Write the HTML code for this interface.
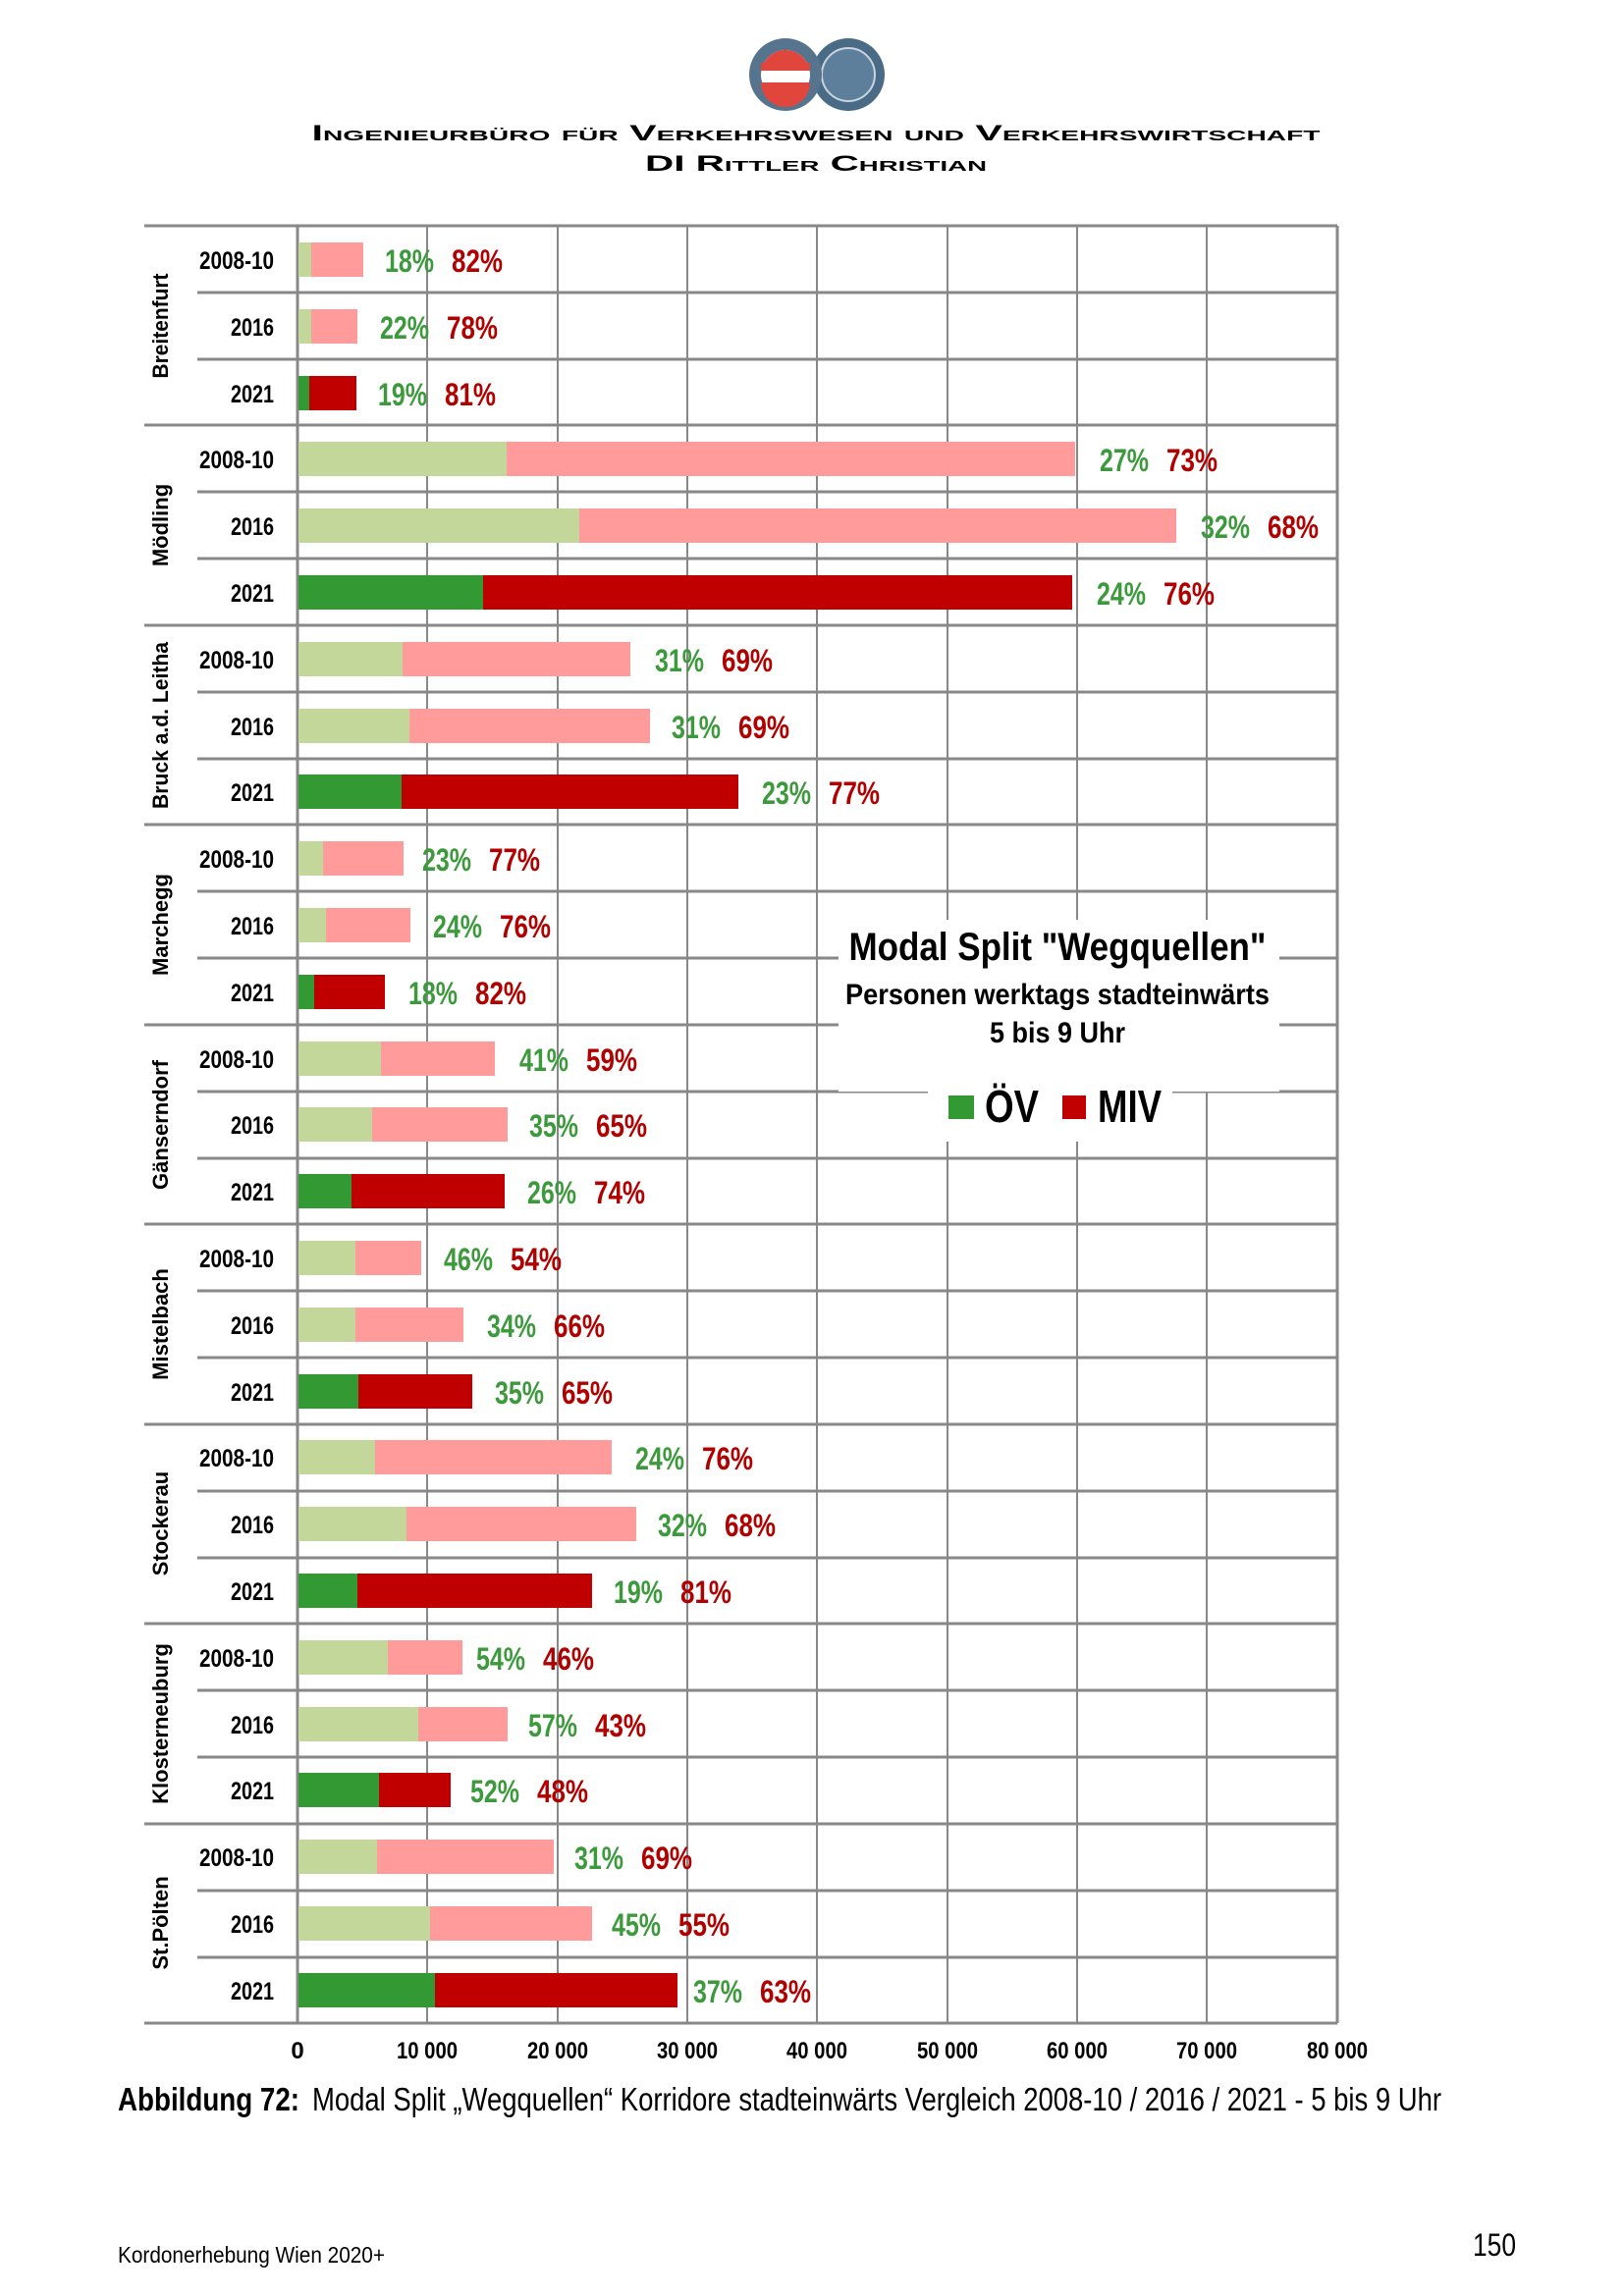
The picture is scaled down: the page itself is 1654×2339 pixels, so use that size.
<!DOCTYPE html>
<html><head><meta charset="utf-8"><style>
html,body{margin:0;padding:0;background:#fff;}
svg{display:block;}
text{font-family:"Liberation Sans Narrow","Liberation Sans",sans-serif;}
</style></head><body>
<svg width="1654" height="2339" viewBox="0 0 1654 2339" xmlns="http://www.w3.org/2000/svg">
<!-- logo -->
<circle cx="864" cy="76" r="37" fill="#4a6b86"/>
<circle cx="864" cy="76" r="27" fill="#5d7f9c" stroke="#c9d4de" stroke-width="2"/>
<circle cx="800" cy="76" r="37" fill="#56748d"/>
<circle cx="800" cy="76" r="25" fill="#fff"/>
<path d="M775 76 a25 25 0 0 1 50 0 v-8 h-50z" fill="#e0463c"/>
<rect x="775" y="64" width="50" height="8" fill="#e0463c"/>
<path d="M775 84 a25 25 0 0 0 50 0z" fill="#e0463c"/>
<rect x="775" y="66" width="50" height="6" fill="#e0463c"/>
<text x="831" y="143" text-anchor="middle" font-size="22" font-weight="bold" style="font-variant:small-caps;font-family:'Liberation Sans',sans-serif" textLength="1027" lengthAdjust="spacingAndGlyphs">Ingenieurbüro für Verkehrswesen und Verkehrswirtschaft</text>
<text x="831" y="174" text-anchor="middle" font-size="22" font-weight="bold" style="font-variant:small-caps;font-family:'Liberation Sans',sans-serif" textLength="348" lengthAdjust="spacingAndGlyphs">DI Rittler Christian</text>

<!-- vertical gridlines -->
<g stroke="#888" stroke-width="2">
<line x1="435" y1="230" x2="435" y2="2061"/><line x1="568" y1="230" x2="568" y2="2061"/>
<line x1="700" y1="230" x2="700" y2="2061"/><line x1="832" y1="230" x2="832" y2="2061"/>
<line x1="965" y1="230" x2="965" y2="2061"/><line x1="1097" y1="230" x2="1097" y2="2061"/>
<line x1="1229" y1="230" x2="1229" y2="2061"/>
</g>
<!-- horizontal lines -->
<g stroke="#888" stroke-width="3">
<line x1="147" y1="230" x2="1362" y2="230"/>
<line x1="201" y1="298" x2="1362" y2="298"/><line x1="201" y1="366" x2="1362" y2="366"/>
<line x1="147" y1="433" x2="1362" y2="433"/>
<line x1="201" y1="501" x2="1362" y2="501"/><line x1="201" y1="569" x2="1362" y2="569"/>
<line x1="147" y1="637" x2="1362" y2="637"/>
<line x1="201" y1="705" x2="1362" y2="705"/><line x1="201" y1="773" x2="1362" y2="773"/>
<line x1="147" y1="840" x2="1362" y2="840"/>
<line x1="201" y1="908" x2="1362" y2="908"/><line x1="201" y1="976" x2="1362" y2="976"/>
<line x1="147" y1="1044" x2="1362" y2="1044"/>
<line x1="201" y1="1112" x2="1362" y2="1112"/><line x1="201" y1="1180" x2="1362" y2="1180"/>
<line x1="147" y1="1247" x2="1362" y2="1247"/>
<line x1="201" y1="1315" x2="1362" y2="1315"/><line x1="201" y1="1383" x2="1362" y2="1383"/>
<line x1="147" y1="1451" x2="1362" y2="1451"/>
<line x1="201" y1="1519" x2="1362" y2="1519"/><line x1="201" y1="1587" x2="1362" y2="1587"/>
<line x1="147" y1="1654" x2="1362" y2="1654"/>
<line x1="201" y1="1722" x2="1362" y2="1722"/><line x1="201" y1="1790" x2="1362" y2="1790"/>
<line x1="147" y1="1858" x2="1362" y2="1858"/>
<line x1="201" y1="1926" x2="1362" y2="1926"/><line x1="201" y1="1994" x2="1362" y2="1994"/>
<line x1="147" y1="2061" x2="1362" y2="2061"/>
<line x1="303" y1="230" x2="303" y2="2061"/>
<line x1="1362" y1="230" x2="1362" y2="2061"/>
</g>
<!-- legend white boxes -->
<rect x="854" y="937" width="449" height="175" fill="#fff"/>
<rect x="945" y="1080" width="249" height="83" fill="#fff"/>
<text x="1077" y="978" text-anchor="middle" font-size="40" font-weight="bold" textLength="425" lengthAdjust="spacingAndGlyphs">Modal Split "Wegquellen"</text>
<text x="1077" y="1023" text-anchor="middle" font-size="30" font-weight="bold" textLength="432" lengthAdjust="spacingAndGlyphs">Personen werktags stadteinwärts</text>
<text x="1077" y="1062" text-anchor="middle" font-size="30" font-weight="bold" textLength="138" lengthAdjust="spacingAndGlyphs">5 bis 9 Uhr</text>
<rect x="966" y="1116" width="26" height="24" fill="#339933"/>
<text x="1003" y="1143" font-size="46" font-weight="bold" textLength="55" lengthAdjust="spacingAndGlyphs">ÖV</text>
<rect x="1082" y="1116" width="24" height="24" fill="#c00000"/>
<text x="1118" y="1143" font-size="46" font-weight="bold" textLength="65" lengthAdjust="spacingAndGlyphs">MIV</text>

<!-- group labels -->
<g font-size="22" font-weight="bold" text-anchor="middle" style="font-family:'Liberation Sans',sans-serif">
<text transform="translate(171,332) rotate(-90)" textLength="107" lengthAdjust="spacingAndGlyphs">Breitenfurt</text>
<text transform="translate(171,535) rotate(-90)">Mödling</text>
<text transform="translate(171,739) rotate(-90)" textLength="170" lengthAdjust="spacingAndGlyphs">Bruck a.d. Leitha</text>
<text transform="translate(171,942) rotate(-90)">Marchegg</text>
<text transform="translate(171,1146) rotate(-90)">Gänserndorf</text>
<text transform="translate(171,1349) rotate(-90)">Mistelbach</text>
<text transform="translate(171,1552) rotate(-90)">Stockerau</text>
<text transform="translate(171,1756) rotate(-90)">Klosterneuburg</text>
<text transform="translate(171,1959) rotate(-90)">St.Pölten</text>
</g>
<!-- ticks -->
<g font-size="24" font-weight="bold" text-anchor="middle">
<text x="303" y="2097">0</text>
<text x="435" y="2097" textLength="62" lengthAdjust="spacingAndGlyphs">10 000</text>
<text x="568" y="2097" textLength="62" lengthAdjust="spacingAndGlyphs">20 000</text>
<text x="700" y="2097" textLength="62" lengthAdjust="spacingAndGlyphs">30 000</text>
<text x="832" y="2097" textLength="62" lengthAdjust="spacingAndGlyphs">40 000</text>
<text x="965" y="2097" textLength="62" lengthAdjust="spacingAndGlyphs">50 000</text>
<text x="1097" y="2097" textLength="62" lengthAdjust="spacingAndGlyphs">60 000</text>
<text x="1229" y="2097" textLength="62" lengthAdjust="spacingAndGlyphs">70 000</text>
<text x="1362" y="2097" textLength="62" lengthAdjust="spacingAndGlyphs">80 000</text>
</g>
<text x="120" y="2150" font-size="33" font-weight="bold" textLength="185" lengthAdjust="spacingAndGlyphs">Abbildung 72:</text>
<text x="318" y="2150" font-size="33" textLength="1150" lengthAdjust="spacingAndGlyphs">Modal Split „Wegquellen“ Korridore stadteinwärts Vergleich 2008-10 / 2016 / 2021 - 5 bis 9 Uhr</text>
<text x="120" y="2305" font-size="23" textLength="272" lengthAdjust="spacingAndGlyphs">Kordonerhebung Wien 2020+</text>
<text x="1500" y="2298" font-size="32" textLength="44" lengthAdjust="spacingAndGlyphs">150</text>

<g font-size="25" font-weight="bold" text-anchor="end">
<text x="279" y="274" textLength="76" lengthAdjust="spacingAndGlyphs">2008-10</text><text x="279" y="342" textLength="44" lengthAdjust="spacingAndGlyphs">2016</text><text x="279" y="410" textLength="44" lengthAdjust="spacingAndGlyphs">2021</text>
<text x="279" y="477" textLength="76" lengthAdjust="spacingAndGlyphs">2008-10</text><text x="279" y="545" textLength="44" lengthAdjust="spacingAndGlyphs">2016</text><text x="279" y="613" textLength="44" lengthAdjust="spacingAndGlyphs">2021</text>
<text x="279" y="681" textLength="76" lengthAdjust="spacingAndGlyphs">2008-10</text><text x="279" y="749" textLength="44" lengthAdjust="spacingAndGlyphs">2016</text><text x="279" y="816" textLength="44" lengthAdjust="spacingAndGlyphs">2021</text>
<text x="279" y="884" textLength="76" lengthAdjust="spacingAndGlyphs">2008-10</text><text x="279" y="952" textLength="44" lengthAdjust="spacingAndGlyphs">2016</text><text x="279" y="1020" textLength="44" lengthAdjust="spacingAndGlyphs">2021</text>
<text x="279" y="1088" textLength="76" lengthAdjust="spacingAndGlyphs">2008-10</text><text x="279" y="1155" textLength="44" lengthAdjust="spacingAndGlyphs">2016</text><text x="279" y="1223" textLength="44" lengthAdjust="spacingAndGlyphs">2021</text>
<text x="279" y="1291" textLength="76" lengthAdjust="spacingAndGlyphs">2008-10</text><text x="279" y="1359" textLength="44" lengthAdjust="spacingAndGlyphs">2016</text><text x="279" y="1427" textLength="44" lengthAdjust="spacingAndGlyphs">2021</text>
<text x="279" y="1494" textLength="76" lengthAdjust="spacingAndGlyphs">2008-10</text><text x="279" y="1562" textLength="44" lengthAdjust="spacingAndGlyphs">2016</text><text x="279" y="1630" textLength="44" lengthAdjust="spacingAndGlyphs">2021</text>
<text x="279" y="1698" textLength="76" lengthAdjust="spacingAndGlyphs">2008-10</text><text x="279" y="1766" textLength="44" lengthAdjust="spacingAndGlyphs">2016</text><text x="279" y="1833" textLength="44" lengthAdjust="spacingAndGlyphs">2021</text>
<text x="279" y="1901" textLength="76" lengthAdjust="spacingAndGlyphs">2008-10</text><text x="279" y="1969" textLength="44" lengthAdjust="spacingAndGlyphs">2016</text><text x="279" y="2037" textLength="44" lengthAdjust="spacingAndGlyphs">2021</text>
</g>

<g>
<rect x="304" y="247" width="13" height="35" fill="#c4d79b"/><rect x="317" y="247" width="53" height="35" fill="#ff9b9b"/>
<rect x="304" y="315" width="13" height="35" fill="#c4d79b"/><rect x="317" y="315" width="47" height="35" fill="#ff9b9b"/>
<rect x="304" y="383" width="11" height="35" fill="#339933"/><rect x="315" y="383" width="48" height="35" fill="#c00000"/>
<rect x="304" y="450" width="212" height="35" fill="#c4d79b"/><rect x="516" y="450" width="579" height="35" fill="#ff9b9b"/>
<rect x="304" y="518" width="286" height="35" fill="#c4d79b"/><rect x="590" y="518" width="608" height="35" fill="#ff9b9b"/>
<rect x="304" y="586" width="188" height="35" fill="#339933"/><rect x="492" y="586" width="600" height="35" fill="#c00000"/>
<rect x="304" y="654" width="106" height="35" fill="#c4d79b"/><rect x="410" y="654" width="232" height="35" fill="#ff9b9b"/>
<rect x="304" y="722" width="113" height="35" fill="#c4d79b"/><rect x="417" y="722" width="245" height="35" fill="#ff9b9b"/>
<rect x="304" y="789" width="105" height="35" fill="#339933"/><rect x="409" y="789" width="343" height="35" fill="#c00000"/>
<rect x="304" y="857" width="25" height="35" fill="#c4d79b"/><rect x="329" y="857" width="82" height="35" fill="#ff9b9b"/>
<rect x="304" y="925" width="28" height="35" fill="#c4d79b"/><rect x="332" y="925" width="86" height="35" fill="#ff9b9b"/>
<rect x="304" y="993" width="16" height="35" fill="#339933"/><rect x="320" y="993" width="72" height="35" fill="#c00000"/>
<rect x="304" y="1061" width="84" height="35" fill="#c4d79b"/><rect x="388" y="1061" width="116" height="35" fill="#ff9b9b"/>
<rect x="304" y="1128" width="75" height="35" fill="#c4d79b"/><rect x="379" y="1128" width="138" height="35" fill="#ff9b9b"/>
<rect x="304" y="1196" width="54" height="35" fill="#339933"/><rect x="358" y="1196" width="156" height="35" fill="#c00000"/>
<rect x="304" y="1264" width="58" height="35" fill="#c4d79b"/><rect x="362" y="1264" width="67" height="35" fill="#ff9b9b"/>
<rect x="304" y="1332" width="58" height="35" fill="#c4d79b"/><rect x="362" y="1332" width="110" height="35" fill="#ff9b9b"/>
<rect x="304" y="1400" width="61" height="35" fill="#339933"/><rect x="365" y="1400" width="116" height="35" fill="#c00000"/>
<rect x="304" y="1467" width="78" height="35" fill="#c4d79b"/><rect x="382" y="1467" width="241" height="35" fill="#ff9b9b"/>
<rect x="304" y="1535" width="110" height="35" fill="#c4d79b"/><rect x="414" y="1535" width="234" height="35" fill="#ff9b9b"/>
<rect x="304" y="1603" width="60" height="35" fill="#339933"/><rect x="364" y="1603" width="239" height="35" fill="#c00000"/>
<rect x="304" y="1671" width="91" height="35" fill="#c4d79b"/><rect x="395" y="1671" width="76" height="35" fill="#ff9b9b"/>
<rect x="304" y="1739" width="122" height="35" fill="#c4d79b"/><rect x="426" y="1739" width="91" height="35" fill="#ff9b9b"/>
<rect x="304" y="1806" width="82" height="35" fill="#339933"/><rect x="386" y="1806" width="73" height="35" fill="#c00000"/>
<rect x="304" y="1874" width="80" height="35" fill="#c4d79b"/><rect x="384" y="1874" width="180" height="35" fill="#ff9b9b"/>
<rect x="304" y="1942" width="134" height="35" fill="#c4d79b"/><rect x="438" y="1942" width="165" height="35" fill="#ff9b9b"/>
<rect x="304" y="2010" width="139" height="35" fill="#339933"/><rect x="443" y="2010" width="247" height="35" fill="#c00000"/>
</g>

<g font-size="32" font-weight="bold">
<g fill="#3c9a3c">
<text x="392" y="277" textLength="50" lengthAdjust="spacingAndGlyphs">18%</text>
<text x="387" y="345" textLength="50" lengthAdjust="spacingAndGlyphs">22%</text>
<text x="385" y="413" textLength="50" lengthAdjust="spacingAndGlyphs">19%</text>
<text x="1120" y="480" textLength="50" lengthAdjust="spacingAndGlyphs">27%</text>
<text x="1223" y="548" textLength="50" lengthAdjust="spacingAndGlyphs">32%</text>
<text x="1117" y="616" textLength="50" lengthAdjust="spacingAndGlyphs">24%</text>
<text x="667" y="684" textLength="50" lengthAdjust="spacingAndGlyphs">31%</text>
<text x="684" y="752" textLength="50" lengthAdjust="spacingAndGlyphs">31%</text>
<text x="776" y="819" textLength="50" lengthAdjust="spacingAndGlyphs">23%</text>
<text x="430" y="887" textLength="50" lengthAdjust="spacingAndGlyphs">23%</text>
<text x="441" y="955" textLength="50" lengthAdjust="spacingAndGlyphs">24%</text>
<text x="416" y="1023" textLength="50" lengthAdjust="spacingAndGlyphs">18%</text>
<text x="529" y="1091" textLength="50" lengthAdjust="spacingAndGlyphs">41%</text>
<text x="539" y="1158" textLength="50" lengthAdjust="spacingAndGlyphs">35%</text>
<text x="537" y="1226" textLength="50" lengthAdjust="spacingAndGlyphs">26%</text>
<text x="452" y="1294" textLength="50" lengthAdjust="spacingAndGlyphs">46%</text>
<text x="496" y="1362" textLength="50" lengthAdjust="spacingAndGlyphs">34%</text>
<text x="504" y="1430" textLength="50" lengthAdjust="spacingAndGlyphs">35%</text>
<text x="647" y="1497" textLength="50" lengthAdjust="spacingAndGlyphs">24%</text>
<text x="670" y="1565" textLength="50" lengthAdjust="spacingAndGlyphs">32%</text>
<text x="625" y="1633" textLength="50" lengthAdjust="spacingAndGlyphs">19%</text>
<text x="485" y="1701" textLength="50" lengthAdjust="spacingAndGlyphs">54%</text>
<text x="538" y="1769" textLength="50" lengthAdjust="spacingAndGlyphs">57%</text>
<text x="479" y="1836" textLength="50" lengthAdjust="spacingAndGlyphs">52%</text>
<text x="585" y="1904" textLength="50" lengthAdjust="spacingAndGlyphs">31%</text>
<text x="623" y="1972" textLength="50" lengthAdjust="spacingAndGlyphs">45%</text>
<text x="706" y="2040" textLength="50" lengthAdjust="spacingAndGlyphs">37%</text>
</g>
<g fill="#b00000">
<text x="460" y="277" textLength="52" lengthAdjust="spacingAndGlyphs">82%</text>
<text x="455" y="345" textLength="52" lengthAdjust="spacingAndGlyphs">78%</text>
<text x="453" y="413" textLength="52" lengthAdjust="spacingAndGlyphs">81%</text>
<text x="1188" y="480" textLength="52" lengthAdjust="spacingAndGlyphs">73%</text>
<text x="1291" y="548" textLength="52" lengthAdjust="spacingAndGlyphs">68%</text>
<text x="1185" y="616" textLength="52" lengthAdjust="spacingAndGlyphs">76%</text>
<text x="735" y="684" textLength="52" lengthAdjust="spacingAndGlyphs">69%</text>
<text x="752" y="752" textLength="52" lengthAdjust="spacingAndGlyphs">69%</text>
<text x="844" y="819" textLength="52" lengthAdjust="spacingAndGlyphs">77%</text>
<text x="498" y="887" textLength="52" lengthAdjust="spacingAndGlyphs">77%</text>
<text x="509" y="955" textLength="52" lengthAdjust="spacingAndGlyphs">76%</text>
<text x="484" y="1023" textLength="52" lengthAdjust="spacingAndGlyphs">82%</text>
<text x="597" y="1091" textLength="52" lengthAdjust="spacingAndGlyphs">59%</text>
<text x="607" y="1158" textLength="52" lengthAdjust="spacingAndGlyphs">65%</text>
<text x="605" y="1226" textLength="52" lengthAdjust="spacingAndGlyphs">74%</text>
<text x="520" y="1294" textLength="52" lengthAdjust="spacingAndGlyphs">54%</text>
<text x="564" y="1362" textLength="52" lengthAdjust="spacingAndGlyphs">66%</text>
<text x="572" y="1430" textLength="52" lengthAdjust="spacingAndGlyphs">65%</text>
<text x="715" y="1497" textLength="52" lengthAdjust="spacingAndGlyphs">76%</text>
<text x="738" y="1565" textLength="52" lengthAdjust="spacingAndGlyphs">68%</text>
<text x="693" y="1633" textLength="52" lengthAdjust="spacingAndGlyphs">81%</text>
<text x="553" y="1701" textLength="52" lengthAdjust="spacingAndGlyphs">46%</text>
<text x="606" y="1769" textLength="52" lengthAdjust="spacingAndGlyphs">43%</text>
<text x="547" y="1836" textLength="52" lengthAdjust="spacingAndGlyphs">48%</text>
<text x="653" y="1904" textLength="52" lengthAdjust="spacingAndGlyphs">69%</text>
<text x="691" y="1972" textLength="52" lengthAdjust="spacingAndGlyphs">55%</text>
<text x="774" y="2040" textLength="52" lengthAdjust="spacingAndGlyphs">63%</text>
</g>
</g>
</svg>
</body></html>
